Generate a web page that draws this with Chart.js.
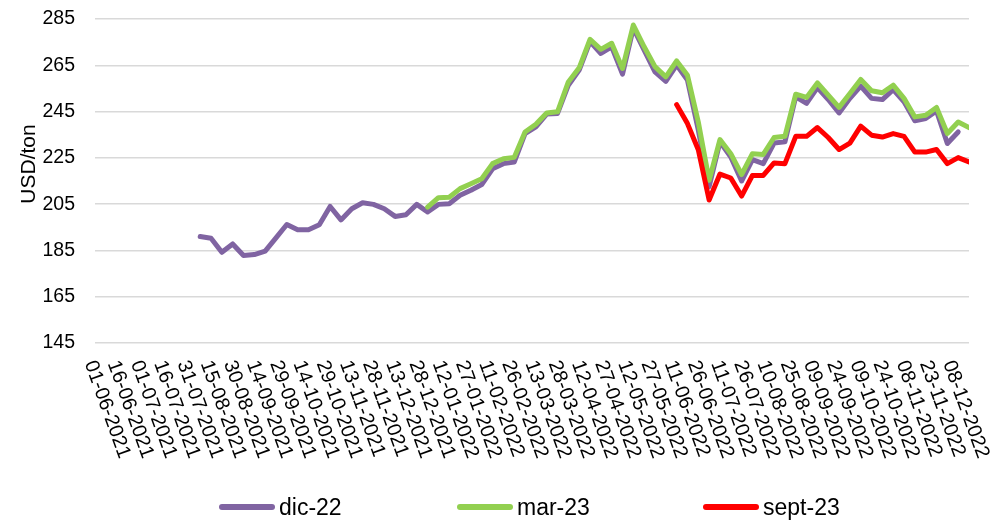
<!DOCTYPE html>
<html>
<head>
<meta charset="utf-8">
<script src="https://cdn.jsdelivr.net/npm/chart.js@4.4.1/dist/chart.umd.min.js"></script>
<style>
  html, body { margin: 0; padding: 0; background: #fff; }
  #wrap { position: relative; width: 999px; height: 523px; }
  .item { position: absolute; top: 493px; height: 28px; display: flex; align-items: center;
          font: 23px "Liberation Sans", Arial, sans-serif; color: #000; white-space: nowrap; }
  .item i { display: inline-block; width: 56px; height: 6px; border-radius: 3px; margin-right: 4px; }
</style>
</head>
<body>
<div id="wrap">
  <canvas id="chart"></canvas>
</div>
<script>
// x axis runs in days from axisStart; prices are weekly from firstWeek
const axisStart = "2021-06-01"
const axisEnd = "2022-12-18"
const firstWeek = "2021-08-08"
const weekCount = 72

const tickLabels = [
  "01-06-2021", "16-06-2021", "01-07-2021", "16-07-2021", "31-07-2021", "15-08-2021",
  "30-08-2021", "14-09-2021", "29-09-2021", "14-10-2021", "29-10-2021", "13-11-2021",
  "28-11-2021", "13-12-2021", "28-12-2021", "12-01-2022", "27-01-2022", "11-02-2022",
  "26-02-2022", "13-03-2022", "28-03-2022", "12-04-2022", "27-04-2022", "12-05-2022",
  "27-05-2022", "11-06-2022", "26-06-2022", "11-07-2022", "26-07-2022", "10-08-2022",
  "25-08-2022", "09-09-2022", "24-09-2022", "09-10-2022", "24-10-2022", "08-11-2022",
  "23-11-2022", "08-12-2022"
]
const yTicks = [145, 165, 185, 205, 225, 245, 265, 285]

// dic-22 starts at week 0
const dic22 = [
  191.0, 190.3, 184.2, 187.8, 182.8, 183.2, 184.7, 190.4, 196.2, 193.9,
  193.9, 196.1, 204.0, 198.2, 203.0, 205.6, 204.9, 203.0, 199.7, 200.4,
  204.9, 201.6, 204.9, 205.2, 208.8, 211.0, 213.5, 220.3, 222.5, 223.2,
  235.5, 238.4, 243.9, 244.2, 256.4, 262.9, 275.2, 270.1, 273.0, 261.2,
  281.0, 271.6, 262.2, 258.1, 265.1, 258.6, 237.0, 212.5, 231.9, 225.4,
  215.0, 224.2, 222.5, 231.4, 231.9, 251.4, 248.5, 255.4, 250.2, 244.4,
  250.7, 256.0, 250.7, 250.2, 254.5, 249.2, 241.0, 242.0, 245.3, 231.2,
  236.2
]
// mar-23 starts at week 21
const mar23 = [
  203.7, 207.8, 208.0, 211.7, 213.8, 216.0, 222.5, 224.6, 225.2, 236.2,
  239.5, 244.4, 244.9, 257.8, 263.9, 276.2, 271.9, 274.5, 263.6, 282.4,
  273.0, 264.4, 260.0, 266.9, 260.7, 240.5, 215.3, 232.9, 226.8, 217.8,
  226.8, 226.5, 233.8, 234.3, 252.5, 251.1, 257.4, 252.1, 246.8, 252.8,
  258.9, 254.0, 253.1, 256.4, 250.7, 242.7, 243.4, 246.8, 235.5, 240.5,
  238.1
]
// sept-23 starts at week 44
const sept23 = [
  248.0, 239.8, 228.5, 206.8, 218.0, 216.3, 208.5, 217.4, 217.4, 222.8,
  222.5, 234.3, 234.3, 238.1, 233.8, 228.6, 231.4, 238.7, 234.8, 234.0,
  235.5, 234.3, 227.5, 227.5, 228.6, 222.5, 225.1, 223.2
]

const seriesNames = ["dic-22", "mar-23", "sept-23"]
const seriesStart = [0, 21, 44]
const seriesColors = ["#8064A2", "#92D050", "#FF0000"]

const FONT = "'Liberation Sans', Arial, sans-serif"
const dayOf = (d) => Math.round((Date.parse(d) - Date.parse(axisStart)) / 86400000)
const weekDays = []
for (let i = 0; i < weekCount; i++) weekDays.push(dayOf(firstWeek) + 7 * i)

const toPoints = (values, start) => values.map((v, k) => ({ x: weekDays[start + k], y: v }))

// Excel-style labels: rotated clockwise, starting at the tick
const rotatedLabels = {
  id: "rotatedLabels",
  afterDraw(chart) {
    const { ctx } = chart
    const x = chart.scales.x
    ctx.save()
    ctx.fillStyle = "#000"
    ctx.font = "20px " + FONT
    ctx.textAlign = "left"
    ctx.textBaseline = "top"
    x.ticks.forEach((t, i) => {
      ctx.save()
      ctx.translate(x.getPixelForValue(t.value) + 4, 358)
      ctx.rotate(70 * Math.PI / 180)
      ctx.fillText(tickLabels[i], 0, 0)
      ctx.restore()
    })
    ctx.translate(35, 164)
    ctx.rotate(-Math.PI / 2)
    ctx.font = "21px " + FONT
    ctx.textAlign = "center"
    ctx.textBaseline = "alphabetic"
    ctx.fillText("USD/ton", 0, 0)
    ctx.restore()
  }
}

const datasets = [dic22, mar23, sept23].map((values, i) => ({
  label: seriesNames[i],
  data: toPoints(values, seriesStart[i]),
  borderColor: seriesColors[i],
  backgroundColor: seriesColors[i],
  borderWidth: 5,
  borderCapStyle: "round",
  borderJoinStyle: "round",
  pointRadius: 0,
  tension: 0,
  order: 3 - i
}))

new Chart(document.getElementById("chart"), {
  type: "line",
  data: { datasets },
  options: {
    responsive: true,
    maintainAspectRatio: false,
    animation: false,
    layout: { padding: { top: 19, right: 30, bottom: 172, left: 0 } },
    plugins: { legend: { display: false }, tooltip: { enabled: false } },
    scales: {
      x: {
        type: "linear",
        min: 0,
        max: dayOf(axisEnd),
        grid: { display: false },
        border: { display: false },
        ticks: { display: false },
        afterBuildTicks: (axis) => { axis.ticks = tickLabels.map((_, i) => ({ value: i * 15 })) }
      },
      y: {
        min: yTicks[0],
        max: yTicks[yTicks.length - 1],
        afterFit: (axis) => { axis.width = 95 },
        afterBuildTicks: (axis) => { axis.ticks = yTicks.map((v) => ({ value: v })) },
        grid: { color: "#d9d9d9", lineWidth: 1.5, tickLength: 20, tickColor: "transparent" },
        border: { display: false },
        ticks: { color: "#000", padding: 0, font: { size: 19.5, family: FONT } }
      }
    }
  },
  plugins: [rotatedLabels]
})

// legend below the plot
const legendLeft = [219, 457, 703]
seriesNames.forEach((name, i) => {
  const item = document.createElement("div")
  item.className = "item"
  item.style.left = legendLeft[i] + "px"
  item.innerHTML = '<i style="background:' + seriesColors[i] + '"></i>' + name
  document.getElementById("wrap").appendChild(item)
})
</script>
</body>
</html>
